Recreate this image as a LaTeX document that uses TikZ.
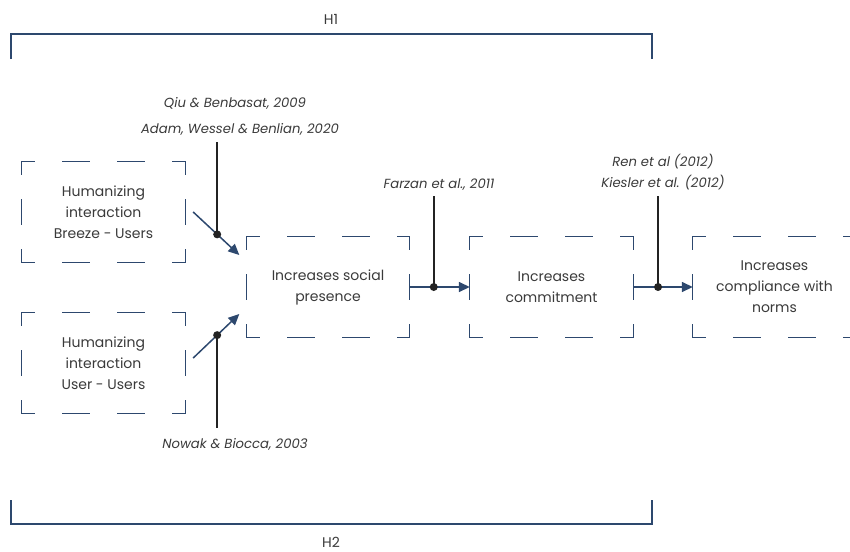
\documentclass[tikz,border=0pt]{standalone}
\usepackage{fontspec}
\setmainfont{Poppins}
\usetikzlibrary{arrows.meta}
\definecolor{frame}{RGB}{45,72,110}
\definecolor{ink}{RGB}{58,58,58}
\definecolor{leadink}{RGB}{35,35,35}
\tikzset{
  stage/.style={minimum width=163pt, minimum height=100pt, inner sep=0pt,
    align=center, font=\fontsize{14}{21}\selectfont, text=ink},
  hdash/.style={draw=frame, line width=1.1pt, line cap=rect,
    dash pattern=on 27pt off 28pt, dash phase=14pt},
  vdash/.style={draw=frame, line width=1.1pt, line cap=rect,
    dash pattern=on 25pt off 25pt, dash phase=12.5pt},
  flow/.style={draw=frame, line width=1.5pt, -{Triangle[length=11pt,width=10pt]}},
  citelabel/.style={font=\fontsize{13.2}{15}\selectfont\itshape, text=ink, inner sep=0pt},
  leadline/.style={draw=leadink, line width=1.8pt},
  dotmark/.style={circle, fill=leadink, inner sep=0pt, minimum size=8pt},
  bracketline/.style={draw=frame, line width=1.8pt},
  hlabel/.style={font=\fontsize{14}{16}\selectfont, text=ink, inner sep=0pt}
}
\begin{document}
\begin{tikzpicture}[x=1pt,y=-1pt]
\path[use as bounding box, clip] (0,0) rectangle (850,551);

% stages
\node[stage] (A) at (103.5,212) {Humanizing\\interaction\\Breeze - Users};
\node[stage] (B) at (103.5,363) {Humanizing\\interaction\\User - Users};
\node[stage] (C) at (328,287) {Increases social\\presence};
\node[stage] (D) at (551.5,287) {Increases\\commitment};
\node[stage] (E) at (774.5,287) {Increases\\compliance with\\norms};
\foreach \n in {A,B,C,D,E}{
  \draw[hdash] (\n.north west) -- (\n.north east);
  \draw[hdash] (\n.south west) -- (\n.south east);
  \draw[vdash] (\n.north west) -- (\n.south west);
  \draw[vdash] (\n.north east) -- (\n.south east);
}

% flows between stages
\draw[flow] ([shift={(8,0)}]A.east) -- coordinate[pos=0.52] (jA) ([shift={(-7,-32)}]C.west);
\draw[flow] ([shift={(8,-5)}]B.east) -- coordinate[pos=0.52] (jB) ([shift={(-7,27)}]C.west);
\draw[flow] (C.east) -- coordinate[pos=0.4] (jC) (D.west);
\draw[flow] (D.east) -- coordinate[pos=0.417] (jD) (E.west);

% citations
\node[citelabel] (qiu) at (235,103) {Qiu \& Benbasat, 2009};
\node[citelabel] (adam) at (240,129) {Adam, Wessel \& Benlian, 2020};
\node[citelabel] (farzan) at (439,185) {Farzan et al., 2011};
\node[citelabel] (ren) at (663,162) {Ren et al (2012)};
\node[citelabel] (kiesler) at (663,183) {Kiesler et al. (2012)};
\node[citelabel] (nowak) at (235,444) {Nowak \& Biocca, 2003};

\coordinate (tA) at (jA |- 0,142);
\coordinate (tB) at (jB |- 0,428);
\coordinate (tC) at (jC |- 0,196);
\coordinate (tD) at (jD |- 0,196);
\foreach \j/\t in {jA/tA,jB/tB,jC/tC,jD/tD}{
  \draw[leadline] (\j) -- (\t);
  \node[dotmark] at (\j) {};
}

% hypothesis brackets
\draw[bracketline] (11,59) -- (11,34) -- (652,34) -- (652,59);
\node[hlabel] (h1) at (331,19) {H1};
\draw[bracketline] (11,500) -- (11,524) -- (652,524) -- (652,500);
\node[hlabel] (h2) at (331,542) {H2};
\end{tikzpicture}
\end{document}
